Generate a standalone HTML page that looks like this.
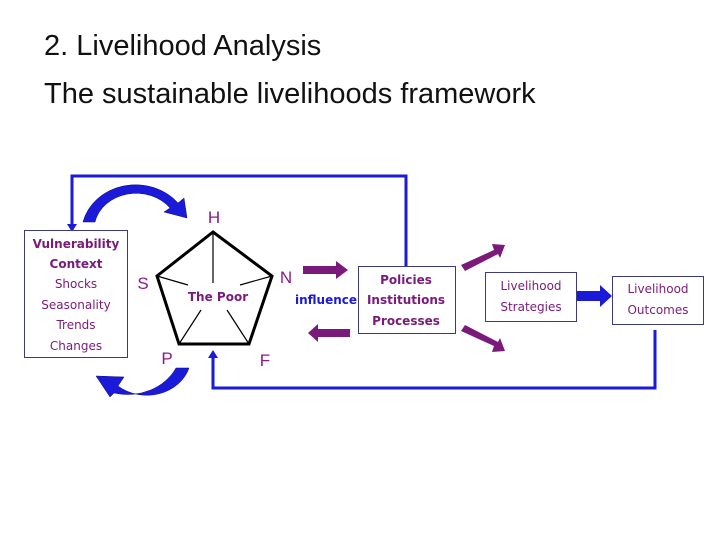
<!DOCTYPE html>
<html><head><style>
body{margin:0;background:#fff;}
.t{position:absolute;left:44px;font-family:"Liberation Sans",sans-serif;font-size:29px;color:#111;}
</style></head><body>
<div style="position:relative;width:728px;height:546px;overflow:hidden">
<div class="t" style="top:30px">2. Livelihood Analysis</div>
<div class="t" style="top:78px">The sustainable livelihoods framework</div>
<svg width="728" height="546" style="position:absolute;left:0;top:0" font-family="'Comic Sans MS','DejaVu Sans',sans-serif">
<polyline points="72,226 72,176 406,176 406,266" fill="none" stroke="#1a1ad8" stroke-width="3"/>
<polygon points="67,224 77,224 72,232" fill="#1a1ad8"/>
<polyline points="655,330 655,388 213,388 213,356" fill="none" stroke="#1a1ad8" stroke-width="3"/>
<polygon points="208,358 218,358 213,350" fill="#1a1ad8"/>
<rect x="24.5" y="230.5" width="103" height="127" fill="#fff" stroke="#3c3c7a"/>
<g fill="#7a1a7a" font-size="12" text-anchor="middle">
<text x="76" y="248" font-weight="bold">Vulnerability</text>
<text x="76" y="268" font-weight="bold">Context</text>
<text x="76" y="288">Shocks</text>
<text x="76" y="309">Seasonality</text>
<text x="76" y="329">Trends</text>
<text x="76" y="350">Changes</text>
</g>
<path d="M95,222 A42,36 0 0 1 170,208 L164,212 L187,218 L184,198 L178,203 A54,48 0 0 0 83,222 Z" fill="#1a1ad8" stroke="#0a0a80" stroke-width="0.5"/>
<path d="M189,368 A44,38 0 0 1 118,386 L124,377 L96,376 L110,397 L114,393 A54,48 0 0 0 176,368 Z" fill="#1a1ad8" stroke="#0a0a80" stroke-width="0.5"/>
<polygon points="213,232 272,276 249,344 179,344 157,276" fill="#fff" stroke="#000" stroke-width="3"/>
<g stroke="#000" stroke-width="1.2">
<line x1="213" y1="232" x2="213" y2="283"/>
<line x1="157" y1="276" x2="188" y2="285"/>
<line x1="272" y1="276" x2="240" y2="285"/>
<line x1="179" y1="344" x2="201" y2="310"/>
<line x1="249" y1="344" x2="227" y2="310"/>
</g>
<text x="218" y="301" fill="#7a1a7a" font-size="12" font-weight="bold" text-anchor="middle">The Poor</text>
<g fill="#8a1a8a" font-size="17" font-family="'Liberation Sans',sans-serif" text-anchor="middle">
<text x="214" y="223">H</text><text x="143" y="289">S</text><text x="286" y="283">N</text>
<text x="167" y="364">P</text><text x="265" y="366">F</text>
</g>
<text x="326" y="304" fill="#1a1ad8" font-size="12" font-weight="bold" text-anchor="middle">influence</text>
<polygon points="303,266 336,266 336,261 348,270 336,279 336,274 303,274" fill="#7a1a7a"/>
<polygon points="350,329 318,329 318,324 308,333 318,342 318,337 350,337" fill="#7a1a7a"/>
<polygon points="461,265 494,250 492,244 505,245 500,258 498,254 465,271" fill="#7a1a7a"/>
<polygon points="461,331 494,346 492,352 505,351 500,338 498,342 465,325" fill="#7a1a7a"/>
<rect x="358.5" y="266.5" width="97" height="67" fill="#fff" stroke="#3c3c7a"/>
<g fill="#7a1a7a" font-size="12" font-weight="bold" text-anchor="middle">
<text x="406" y="284">Policies</text><text x="406" y="304">Institutions</text><text x="406" y="325">Processes</text>
</g>
<rect x="485.5" y="272.5" width="91" height="49" fill="#fff" stroke="#3c3c7a"/>
<g fill="#7a1a7a" font-size="12" text-anchor="middle">
<text x="531" y="290">Livelihood</text><text x="531" y="311">Strategies</text>
</g>
<polygon points="577,291 600,291 600,285 612,296 600,307 600,301 577,301" fill="#1a1ad8"/>
<rect x="612.5" y="276.5" width="91" height="48" fill="#fff" stroke="#3c3c7a"/>
<g fill="#7a1a7a" font-size="12" text-anchor="middle">
<text x="658" y="293">Livelihood</text><text x="658" y="314">Outcomes</text>
</g>
</svg>
</div>
</body></html>
